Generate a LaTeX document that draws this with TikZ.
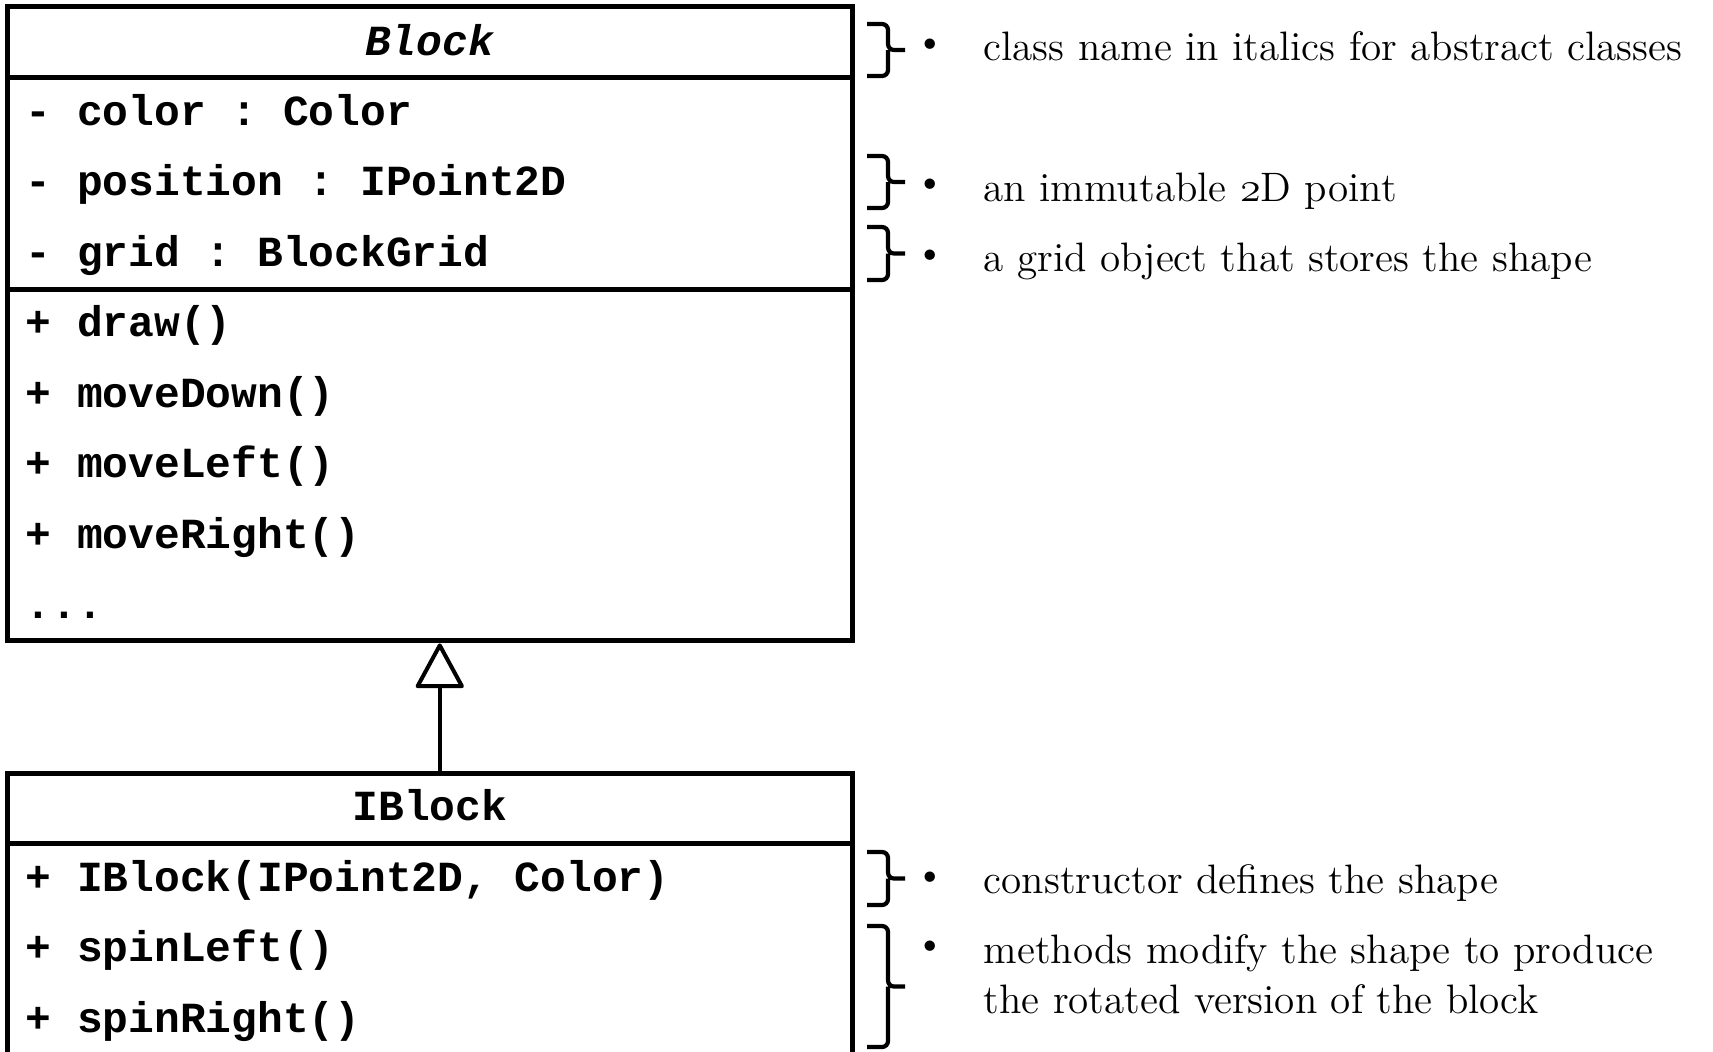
\documentclass[tikz,border=0pt]{standalone}
\usepackage{fontspec}
\setmonofont{Liberation Mono}
\usetikzlibrary{arrows.meta}
\newcommand\osfnum[1]{{\usefont{OML}{cmm}{m}{it}#1}}
\tikzset{classbox/.style={draw, line width=0.05cm, minimum width=8.445cm, inner sep=0pt},
    divider/.style={line width=0.05cm},
    member/.style={anchor=base west, inner sep=0pt, font=\ttfamily\bfseries\fontsize{12.2}{14}\selectfont},
    classname/.style={anchor=base, inner sep=0pt, font=\ttfamily\bfseries\fontsize{12.2}{14}\selectfont},
    note/.style={anchor=base west, inner sep=0pt, align=left, font=\fontsize{11.7}{14.2}\selectfont},
    notebullet/.style={inner sep=0pt, font=\fontsize{11}{11}\selectfont},
    notebrace/.style={line width=0.042cm, rounded corners=0.06cm},
    inherit/.style={line width=0.04cm, -{Triangle[open, length=0.47cm, width=0.5cm, round]}}
}

\begin{document}
\begin{tikzpicture}[x=0.01cm, y=-0.01cm]
                \useasboundingbox (0,0) rectangle (1713,1051);
                \clip (0,0) rectangle (1713,1051);
                
                % Block
                \node[classbox, minimum height=6.34cm] (block) at (429.75,323.7) {};
                \draw[divider] (7.5,77.5) -- (852,77.5);
                \draw[divider] (7.5,289.5) -- (852,289.5);
                \node[classname] (blockname) at (429.75,55) {\textit{Block}};
                \node[member] (color) at (25,125) {- color : Color};
                \node[member] (position) at (25,195.5) {- position : IPoint2D};
                \node[member] (grid) at (25,266) {- grid : BlockGrid};
                \node[member] (draw) at (25,336.5) {+ draw()};
                \node[member] (movedown) at (25,407) {+ moveDown()};
                \node[member] (moveleft) at (25,477.5) {+ moveLeft()};
                \node[member] (moveright) at (25,548) {+ moveRight()};
                \node[member] (more) at (25,618.5) {...};
                
                % IBlock
                \node[classbox, minimum height=3.065cm] (iblock) at (429.75,926.75) {};
                \draw[divider] (7.5,843.5) -- (852,843.5);
                \node[classname] (iblockname) at (429.75,820) {IBlock};
                \node[member] (ctor) at (25,891) {+ IBlock(IPoint2D, Color)};
                \node[member] (spinleft) at (25,961.5) {+ spinLeft()};
                \node[member] (spinright) at (25,1032) {+ spinRight()};
                
                \draw[inherit] ([xshift=0.1cm]iblock.north) -- ([xshift=0.1cm]block.south);
                
                % Braces
                \foreach \t/\b in {24/76, 156/208, 227/280, 852/905, 926/1047} {
                    \pgfmathsetmacro\m{(\t+\b)/2}
                    \draw[notebrace] (867,\t) -- (888,\t) -- (888,\m) -- (905,\m)
                        (888,\m) -- (888,\b) -- (867,\b);
                }
                
                % Notes
                \node[notebullet] (b1) at (930,46) {\textbullet};
                \node[note] (n1) at (983,60.7) {class name in italics for abstract classes};
                \node[notebullet] (b2) at (930,186) {\textbullet};
                \node[note] (n2) at (983,201.7) {an immutable \osfnum{2}D point};
                \node[notebullet] (b3) at (930,257) {\textbullet};
                \node[note] (n3) at (983,271) {a grid object that stores the shape};
                \node[notebullet] (b4) at (930,879) {\textbullet};
                \node[note] (n4) at (983,893) {constructor defines the shape};
                \node[notebullet] (b5) at (930,948) {\textbullet};
                \node[note] (n5) at (983,1013) {methods modify the shape to produce\\the rotated version of the block};
            \end{tikzpicture}
\end{document}
